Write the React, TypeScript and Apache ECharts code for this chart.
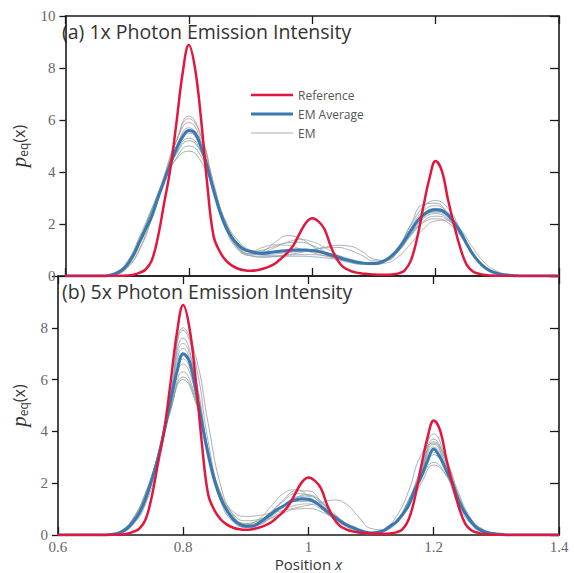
import React, { useEffect, useRef } from 'react';
import * as echarts from 'echarts';

// Positions (x) for finely sampled curves: 0.6, 0.66..1.34 step 0.01, 1.4
const positionsFine = [
  0.6,
  0.66, 0.67, 0.68, 0.69, 0.7, 0.71, 0.72, 0.73, 0.74, 0.75,
  0.76, 0.77, 0.78, 0.79, 0.8, 0.81, 0.82, 0.83, 0.84, 0.85,
  0.86, 0.87, 0.88, 0.89, 0.9, 0.91, 0.92, 0.93, 0.94, 0.95,
  0.96, 0.97, 0.98, 0.99, 1.0, 1.01, 1.02, 1.03, 1.04, 1.05,
  1.06, 1.07, 1.08, 1.09, 1.1, 1.11, 1.12, 1.13, 1.14, 1.15,
  1.16, 1.17, 1.18, 1.19, 1.2, 1.21, 1.22, 1.23, 1.24, 1.25,
  1.26, 1.27, 1.28, 1.29, 1.3, 1.31, 1.32, 1.33, 1.34,
  1.4,
];

// Positions (x) for individual EM runs: 0.6, 0.66..1.34 step 0.02, 1.4
const positionsCoarse = [
  0.6,
  0.66, 0.68, 0.7, 0.72, 0.74, 0.76, 0.78, 0.8, 0.82, 0.84,
  0.86, 0.88, 0.9, 0.92, 0.94, 0.96, 0.98, 1.0, 1.02, 1.04,
  1.06, 1.08, 1.1, 1.12, 1.14, 1.16, 1.18, 1.2, 1.22, 1.24,
  1.26, 1.28, 1.3, 1.32, 1.34,
  1.4,
];

const referenceValues = [
  0,
  0, 0, 0, 0.01, 0.02, 0.05, 0.12, 0.25, 0.6, 1.5,
  2.8, 4.1, 5.9, 7.8, 8.88, 8.0, 6.0, 3.5, 1.55, 0.95,
  0.6, 0.4, 0.28, 0.22, 0.2, 0.22, 0.28, 0.36, 0.48, 0.68,
  0.9, 1.2, 1.65, 2.05, 2.22, 2.1, 1.8, 1.15, 0.65, 0.35,
  0.22, 0.14, 0.1, 0.08, 0.06, 0.05, 0.05, 0.06, 0.1, 0.22,
  0.6, 1.45, 2.65, 3.75, 4.42, 4.05, 2.95, 1.95, 1.08, 0.45,
  0.18, 0.09, 0.04, 0.02, 0.01, 0, 0, 0, 0,
  0,
];

const emAverageTop = [
  0,
  0, 0.02, 0.08, 0.2, 0.42, 0.8, 1.3, 1.8, 2.3, 3.0,
  3.65, 4.3, 4.9, 5.35, 5.6, 5.5, 4.95, 4.2, 3.3, 2.5,
  1.88, 1.48, 1.2, 1.02, 0.94, 0.89, 0.87, 0.9, 0.93, 0.96,
  0.98, 1.0, 1.0, 1.0, 0.98, 0.94, 0.88, 0.81, 0.74, 0.66,
  0.6, 0.54, 0.5, 0.48, 0.48, 0.52, 0.62, 0.8, 1.05, 1.38,
  1.75, 2.1, 2.35, 2.5, 2.55, 2.52, 2.35, 2.05, 1.7, 1.25,
  0.85, 0.55, 0.32, 0.18, 0.1, 0.05, 0.03, 0.01, 0,
  0,
];

const emAverageBottom = [
  0,
  0, 0, 0.01, 0.04, 0.1, 0.25, 0.5, 0.85, 1.4, 2.15,
  3.0, 4.05, 5.2, 6.3, 7.0, 6.7, 5.6, 4.3, 3.1, 2.1,
  1.4, 0.95, 0.6, 0.42, 0.34, 0.34, 0.45, 0.62, 0.8, 0.98,
  1.12, 1.27, 1.36, 1.4, 1.38, 1.28, 1.1, 0.9, 0.72, 0.55,
  0.4, 0.3, 0.2, 0.12, 0.08, 0.1, 0.17, 0.34, 0.5, 0.78,
  1.15, 1.75, 2.24, 2.85, 3.32, 3.0, 2.5, 2.0, 1.3, 0.85,
  0.5, 0.25, 0.13, 0.07, 0.04, 0.02, 0, 0, 0,
  0,
];

// Individual EM runs, 1x photon emission intensity
const emTop1 = [0, 0, .05, .3, 1.0, 2.2, 3.7, 5.2, 6.15, 5.4, 3.6, 2.0, 1.1, .85, .95, 1.3, 1.55, 1.45, 1.15, .85, .65, .52, .45, .45, .6, 1.0, 1.6, 2.1, 2.3, 2.15, 1.6, .85, .35, .12, .03, 0, 0];
const emTop2 = [0, 0, .12, .55, 1.5, 2.6, 3.7, 4.5, 4.8, 4.4, 3.3, 2.1, 1.35, 1.0, .92, .95, 1.0, 1.02, 1.0, .92, .78, .62, .5, .45, .6, 1.1, 2.0, 2.75, 2.8, 2.35, 1.6, .85, .38, .14, .04, 0, 0];
const emTop3 = [0, 0, .07, .4, 1.25, 2.4, 3.6, 4.75, 5.3, 4.8, 3.4, 2.0, 1.2, .9, .8, .78, .82, .9, 1.0, 1.1, 1.18, 1.15, .95, .65, .6, .95, 1.55, 2.05, 2.2, 2.05, 1.55, .85, .35, .12, .03, 0, 0];
const emTop4 = [0, 0, .06, .38, 1.2, 2.4, 3.85, 5.2, 5.9, 5.2, 3.5, 1.95, 1.05, .78, .72, .75, .8, .82, .82, .78, .7, .6, .52, .5, .65, 1.1, 1.85, 2.5, 2.7, 2.45, 1.75, .9, .35, .12, .03, 0, 0];
const emTop5 = [0, 0, .1, .5, 1.4, 2.5, 3.6, 4.55, 5.0, 4.6, 3.3, 2.0, 1.2, .95, 1.0, 1.15, 1.28, 1.3, 1.18, .95, .72, .55, .47, .45, .58, .98, 1.6, 2.2, 2.4, 2.2, 1.6, .85, .35, .12, .03, 0, 0];
const emTop6 = [0, 0, .07, .42, 1.3, 2.5, 3.8, 5.0, 5.7, 5.0, 3.4, 1.9, 1.1, .85, .82, .85, .9, .95, 1.02, 1.08, 1.1, 1.0, .8, .58, .6, 1.0, 1.7, 2.35, 2.6, 2.4, 1.75, .9, .35, .12, .03, 0, 0];
const emTop7 = [0, 0, .08, .44, 1.3, 2.5, 3.75, 4.9, 5.5, 4.9, 3.35, 1.85, 1.05, .78, .74, .75, .76, .76, .74, .7, .64, .56, .5, .48, .66, 1.15, 1.95, 2.65, 2.9, 2.6, 1.8, .92, .36, .12, .03, 0, 0];
const emTop8 = [0, 0, .05, .32, 1.05, 2.3, 3.8, 5.2, 6.05, 5.35, 3.5, 1.9, 1.1, .95, 1.1, 1.2, 1.18, 1.05, .9, .78, .68, .6, .52, .46, .5, .75, 1.25, 1.8, 2.12, 2.15, 1.8, 1.1, .5, .18, .05, 0, 0];
const emTop9 = [0, 0, .1, .48, 1.4, 2.55, 3.7, 4.7, 5.2, 4.75, 3.4, 2.05, 1.25, .98, .92, .92, .95, .96, .95, .9, .8, .66, .54, .5, .62, 1.05, 1.75, 2.3, 2.5, 2.3, 1.68, .88, .35, .12, .03, 0, 0];
const emTop10 = [0, 0, .07, .4, 1.25, 2.45, 3.75, 4.95, 5.6, 4.95, 3.3, 1.8, 1.0, .8, .9, 1.1, 1.3, 1.4, 1.32, 1.1, .82, .6, .48, .45, .58, 1.0, 1.65, 2.25, 2.45, 2.25, 1.65, .88, .35, .12, .03, 0, 0];

// Individual EM runs, 5x photon emission intensity
const emBottom1 = [0, 0, .01, .08, .4, 1.2, 2.8, 5.2, 8.0, 6.9, 4.3, 1.9, .75, .38, .4, .7, 1.1, 1.45, 1.55, 1.3, .85, .45, .18, .08, .15, .45, 1.2, 2.4, 3.6, 2.9, 1.6, .62, .18, .05, 0, 0, 0];
const emBottom2 = [0, 0, .02, .15, .65, 1.65, 3.1, 4.9, 6.0, 5.1, 3.2, 1.6, .8, .55, .6, .85, 1.15, 1.35, 1.35, 1.15, .8, .45, .2, .1, .2, .55, 1.3, 2.2, 2.8, 2.3, 1.35, .58, .2, .06, .01, 0, 0];
const emBottom3 = [0, 0, .01, .08, .45, 1.35, 3.0, 5.5, 7.6, 6.0, 3.2, 1.3, .5, .3, .45, .85, 1.35, 1.7, 1.7, 1.3, .75, .35, .12, .05, .15, .5, 1.35, 2.6, 3.9, 2.9, 1.45, .52, .14, .03, 0, 0, 0];
const emBottom4 = [0, 0, .02, .14, .6, 1.55, 3.0, 4.8, 6.3, 5.3, 3.2, 1.6, .9, .72, .75, .85, .95, 1.05, 1.15, 1.25, 1.35, 1.2, .7, .25, .2, .5, 1.2, 2.2, 3.1, 2.5, 1.4, .55, .16, .04, 0, 0, 0];
const emBottom5 = [0, 0, .01, .1, .5, 1.45, 3.1, 5.3, 7.2, 5.8, 3.2, 1.4, .6, .35, .5, .9, 1.3, 1.6, 1.55, 1.2, .72, .36, .12, .06, .16, .5, 1.3, 2.4, 3.5, 2.7, 1.4, .52, .14, .03, 0, 0, 0];
const emBottom6 = [0, 0, .02, .12, .55, 1.5, 3.05, 5.0, 6.6, 5.5, 3.3, 1.55, .7, .42, .45, .65, .85, 1.0, 1.02, .9, .65, .38, .15, .07, .18, .5, 1.15, 2.0, 2.7, 2.3, 1.4, .6, .2, .06, .01, 0, 0];
const emBottom7 = [0, 0, .01, .09, .45, 1.35, 3.0, 5.4, 7.9, 6.6, 3.6, 1.5, .6, .35, .45, .75, 1.15, 1.45, 1.5, 1.25, .8, .4, .14, .06, .2, .7, 1.7, 3.1, 3.55, 2.4, 1.15, .4, .1, .02, 0, 0, 0];
const emBottom8 = [0, 0, .02, .12, .55, 1.5, 3.1, 5.2, 6.8, 5.6, 3.2, 1.45, .65, .4, .6, 1.1, 1.6, 1.75, 1.5, 1.05, .62, .32, .12, .06, .17, .5, 1.25, 2.3, 3.2, 2.55, 1.38, .52, .15, .03, 0, 0, 0];
const emBottom9 = [0, 0, .02, .14, .62, 1.6, 3.05, 4.85, 6.1, 5.2, 3.15, 1.5, .7, .45, .55, .8, 1.1, 1.3, 1.3, 1.1, .75, .42, .16, .07, .18, .55, 1.35, 2.5, 3.7, 2.8, 1.5, .58, .17, .04, 0, 0, 0];
const emBottom10 = [0, 0, .01, .1, .48, 1.42, 3.05, 5.4, 7.4, 6.0, 3.3, 1.4, .55, .3, .38, .65, .95, 1.15, 1.2, 1.0, .65, .35, .12, .05, .15, .48, 1.25, 2.3, 3.4, 2.6, 1.38, .5, .14, .03, 0, 0, 0];

const emTopRuns = [emTop1, emTop2, emTop3, emTop4, emTop5, emTop6, emTop7, emTop8, emTop9, emTop10];
const emBottomRuns = [emBottom1, emBottom2, emBottom3, emBottom4, emBottom5, emBottom6, emBottom7, emBottom8, emBottom9, emBottom10];

const panelTitles = ['(a) 1x Photon Emission Intensity', '(b) 5x Photon Emission Intensity'];
const legendNames = ['Reference', 'EM Average', 'EM'];

const emColors = [
  'rgba(160,160,160,0.85)', 'rgba(130,165,140,0.8)', 'rgba(140,150,185,0.8)', 'rgba(165,150,165,0.8)',
  'rgba(125,170,150,0.8)', 'rgba(155,155,155,0.8)', 'rgba(130,160,190,0.8)', 'rgba(175,160,140,0.8)',
  'rgba(120,160,130,0.8)', 'rgba(165,165,180,0.8)',
];
const RED = '#e2173d';
const BLUE = '#3a78b4';
const FRAME = '#1a1a1a';

const pairs = (xs: number[], ys: number[]) => xs.map((x, i) => [x, ys[i]]);

export default function App() {
  const ref = useRef<HTMLDivElement>(null);
  useEffect(() => {
    if (!ref.current) return;
    const chart = echarts.init(ref.current, null, { renderer: 'svg' });

    const axisLine = { show: true, onZero: false, lineStyle: { color: FRAME, width: 1.6 } };
    const labelStyle = { color: '#666', fontSize: 15, lineHeight: 12, fontFamily: 'Liberation Serif' };

    const xBase = {
      type: 'value', min: 0.6, max: 1.4, interval: 0.2,
      axisLine, splitLine: { show: false },
      axisTick: { show: true, inside: true, length: 8, lineStyle: { color: FRAME, width: 1.3 } },
    };
    const yBase = {
      type: 'value', min: 0, max: 10, interval: 2,
      axisLine, splitLine: { show: false },
    };
    const yName = '{p|p}{s|eq}{x|(x)}';
    const yNameStyle = {
      rich: {
        p: { fontFamily: 'Liberation Serif', fontStyle: 'italic', fontSize: 21, color: '#333' },
        s: { fontFamily: 'Open Sans', fontSize: 12, color: '#333', padding: [10, 0, 0, 0] },
        x: { fontFamily: 'Open Sans', fontSize: 16, color: '#333' },
      },
    };
    const leftY = (grid: number, hideTop: boolean) => ({
      ...yBase, gridIndex: grid, position: 'left',
      axisTick: { show: true, inside: false, length: 6, lineStyle: { color: FRAME, width: 1.3 } },
      axisLabel: { ...labelStyle, margin: 10, formatter: (v: number) => (hideTop && v === 10 ? '' : String(v)) },
      name: yName, nameLocation: 'middle', nameGap: 23, nameTextStyle: yNameStyle,
    });
    const rightY = (grid: number) => ({
      ...yBase, gridIndex: grid, position: 'right',
      axisTick: { show: true, inside: true, length: 9, lineStyle: { color: FRAME, width: 1.3 } },
      axisLabel: { show: false },
    });

    const series: any[] = [];
    const addPanel = (axisIdx: number, runs: number[][], avg: number[]) => {
      runs.forEach((run, i) => {
        series.push({
          type: 'line', name: 'EM', xAxisIndex: axisIdx, yAxisIndex: axisIdx,
          data: pairs(positionsCoarse, run), smooth: 0.5, symbol: 'none',
          lineStyle: { width: 1, color: emColors[i % emColors.length] },
          itemStyle: { color: emColors[i % emColors.length] },
          z: 2,
        });
      });
      series.push({
        type: 'line', name: 'EM Average', xAxisIndex: axisIdx, yAxisIndex: axisIdx,
        data: pairs(positionsFine, avg), smooth: 0.4, symbol: 'none',
        lineStyle: { width: 3, color: BLUE }, itemStyle: { color: BLUE }, z: 3,
      });
      series.push({
        type: 'line', name: 'Reference', xAxisIndex: axisIdx, yAxisIndex: axisIdx,
        data: pairs(positionsFine, referenceValues), smooth: 0.4, symbol: 'none',
        lineStyle: { width: 2.5, color: RED }, itemStyle: { color: RED }, z: 4,
      });
    };
    addPanel(0, emTopRuns, emAverageTop);
    addPanel(2, emBottomRuns, emAverageBottom);

    chart.setOption({
      animation: false,
      backgroundColor: '#fff',
      grid: [
        { left: 55, top: 16, width: 504, height: 260 },
        { left: 55, top: 276, width: 504, height: 259 },
      ],
      xAxis: [
        { ...xBase, gridIndex: 0, position: 'bottom', axisLabel: { show: false } },
        { ...xBase, gridIndex: 0, position: 'top', axisLabel: { show: false } },
        {
          ...xBase, gridIndex: 1, position: 'bottom',
          axisLabel: { ...labelStyle, margin: 6 },
          name: '{a|Position }{b|x}', nameLocation: 'middle', nameGap: 21,
          nameTextStyle: {
            rich: {
              a: { fontFamily: 'Open Sans', fontSize: 15, lineHeight: 15, color: '#333' },
              b: { fontFamily: 'Open Sans', fontStyle: 'italic', fontSize: 15, lineHeight: 15, color: '#333' },
            },
          },
        },
        { ...xBase, gridIndex: 1, position: 'top', axisLabel: { show: false } },
      ],
      yAxis: [leftY(0, false), rightY(0), leftY(1, true), rightY(1)],
      legend: {
        left: 246, top: 84, orient: 'vertical',
        itemWidth: 42, itemHeight: 14, itemGap: 7, selectedMode: false,
        symbolKeepAspect: true,
        itemStyle: { borderWidth: 0 },
        textStyle: { fontSize: 12, color: '#555', fontFamily: 'Open Sans' },
        data: [
          { name: legendNames[0], icon: 'path://M0,0H42V2.5H0Z' },
          { name: legendNames[1], icon: 'path://M0,0H42V3H0Z' },
          { name: legendNames[2], icon: 'path://M0,0H42V1H0Z' },
        ],
      },
      graphic: [
        { type: 'text', left: 62, top: 21, style: { text: panelTitles[0], font: '19.5px "Open Sans"', fill: '#333' } },
        { type: 'text', left: 62, top: 281, style: { text: panelTitles[1], font: '19.5px "Open Sans"', fill: '#333' } },
      ],
      series,
    });
    return () => chart.dispose();
  }, []);
  return <div ref={ref} style={{ position: 'absolute', left: 0, top: 0, width: 574, height: 573 }} />;
}
